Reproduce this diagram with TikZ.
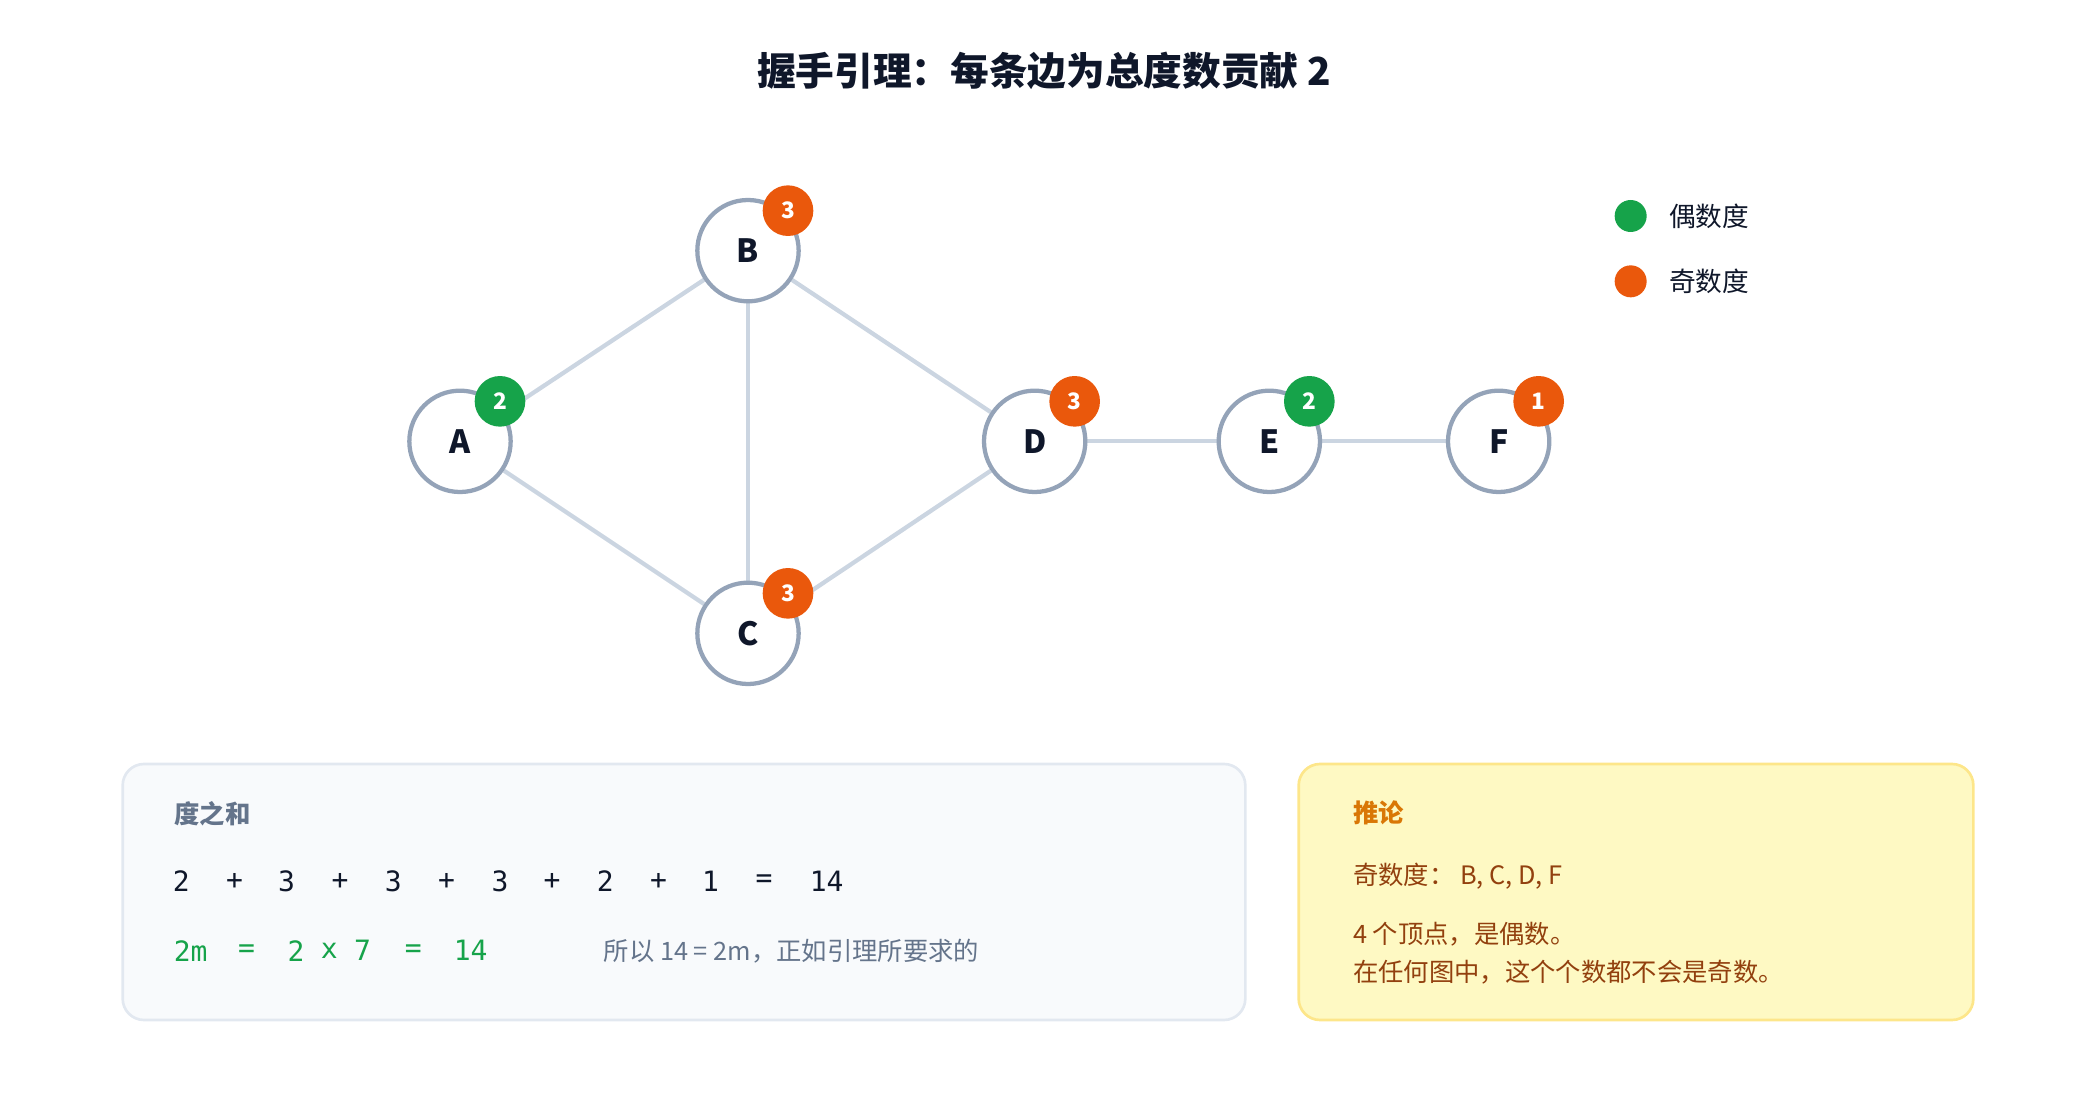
\documentclass[tikz,border=0pt]{standalone}
\usepackage{fontspec}
\setmainfont{Noto Sans CJK SC}
\newfontfamily\codefont{DejaVu Sans Mono}
\usetikzlibrary{backgrounds}
\definecolor{ringc}{HTML}{94A3B8}
\definecolor{edgec}{HTML}{CBD5E1}
\definecolor{evenc}{HTML}{16A34A}
\definecolor{oddc}{HTML}{EA580C}
\definecolor{inkc}{HTML}{0F172A}
\definecolor{greyc}{HTML}{64748B}
\definecolor{brownc}{HTML}{92400E}
\definecolor{amberc}{HTML}{D97706}
\definecolor{sumfill}{HTML}{F8FAFC}
\definecolor{sumline}{HTML}{E2E8F0}
\definecolor{notefill}{HTML}{FEF9C3}
\definecolor{noteline}{HTML}{FDE68A}
\tikzset{every picture/.style={line width=0.75pt}}
\tikzset{
  vert/.style={circle,draw=ringc,line width=1.6pt,fill=white,minimum size=38pt,inner sep=0pt,font=\fontsize{12}{14}\selectfont\bfseries,text=inkc},
  badge/.style={circle,fill=#1,minimum size=19pt,inner sep=0pt,text=white,font=\fontsize{8.5}{10}\selectfont\bfseries},
  link/.style={draw=edgec,line width=1.6pt},
  sumtxt/.style={anchor=center,inner sep=0pt,font=\codefont\fontsize{10.5}{12}\selectfont},
}
\begin{document}
\begin{tikzpicture}[x=0.5pt,y=0.5pt,yscale=-1,xscale=1]
\useasboundingbox (0,0) rectangle (1560,840);

% title
\node (title) at (783,53) [font=\fontsize{14.5}{17}\selectfont\bfseries,text=inkc] {握手引理：每条边为总度数贡献 2};

% vertices
\node (A) at (345,331) [vert] {A};
\node (B) at (561,188) [vert] {B};
\node (C) at (561,475) [vert] {C};
\node (D) at (776,331) [vert] {D};
\node (E) at (952,331) [vert] {E};
\node (F) at (1124,331) [vert] {F};

% edges
\begin{scope}[on background layer]
\path[link] (A) -- (B);
\path[link] (A) -- (C);
\path[link] (B) -- (C);
\path[link] (B) -- (D);
\path[link] (C) -- (D);
\path[link] (D) -- (E);
\path[link] (E) -- (F);
\end{scope}

% degree badges
\node (degA) at (375,301) [badge=evenc] {2};
\node (degB) at (591,158) [badge=oddc] {3};
\node (degC) at (591,445) [badge=oddc] {3};
\node (degD) at (806,301) [badge=oddc] {3};
\node (degE) at (982,301) [badge=evenc] {2};
\node (degF) at (1154,301) [badge=oddc] {1};

% legend
\node (lgEven) at (1223,162) [circle,fill=evenc,minimum size=12pt,inner sep=0pt] {};
\node (lgOdd) at (1223,211) [circle,fill=oddc,minimum size=12pt,inner sep=0pt] {};
\node at (1251,162) [anchor=west,inner sep=0pt,font=\fontsize{10}{12}\selectfont,text=inkc] {偶数度};
\node at (1251,211) [anchor=west,inner sep=0pt,font=\fontsize{10}{12}\selectfont,text=inkc] {奇数度};

% sum box
\draw [draw=sumline, fill=sumfill, line width=1pt, rounded corners=8pt] (92,573) rectangle (934,765);
\node at (130,610) [anchor=west,inner sep=0pt,font=\fontsize{9.5}{11}\selectfont\bfseries,text=greyc] {度之和};
\foreach \x/\t in {136/2,176/+,215/3,255/+,295/3,335/+,375/3,414/+,454/2,494/+,533/1,573/=,620/14}
  \node at (\x,661) [sumtxt,text=inkc] {\t};
\foreach \x/\t in {143/2m,185/=,222/2,247/x,272/7,310/=,353/14}
  \node at (\x,713) [sumtxt,text=evenc] {\t};
\node at (452,713) [anchor=west,inner sep=0pt,font=\fontsize{9.5}{11}\selectfont,text=greyc] {所以 14 = 2m，正如引理所要求的};

% corollary box
\draw [draw=noteline, fill=notefill, line width=1pt, rounded corners=8pt] (974,573) rectangle (1480,765);
\node at (1014,610) [anchor=west,inner sep=0pt,font=\fontsize{9.5}{11}\selectfont\bfseries,text=amberc] {推论};
\node at (1014,657) [anchor=west,inner sep=0pt,font=\fontsize{9.5}{11}\selectfont,text=brownc] {奇数度：\ B, C, D, F};
\node at (1014,701) [anchor=west,inner sep=0pt,font=\fontsize{9.5}{11}\selectfont,text=brownc] {4 个顶点，是偶数。};
\node at (1014,729) [anchor=west,inner sep=0pt,font=\fontsize{9.5}{11}\selectfont,text=brownc] {在任何图中，这个个数都不会是奇数。};
\end{tikzpicture}
\end{document}
